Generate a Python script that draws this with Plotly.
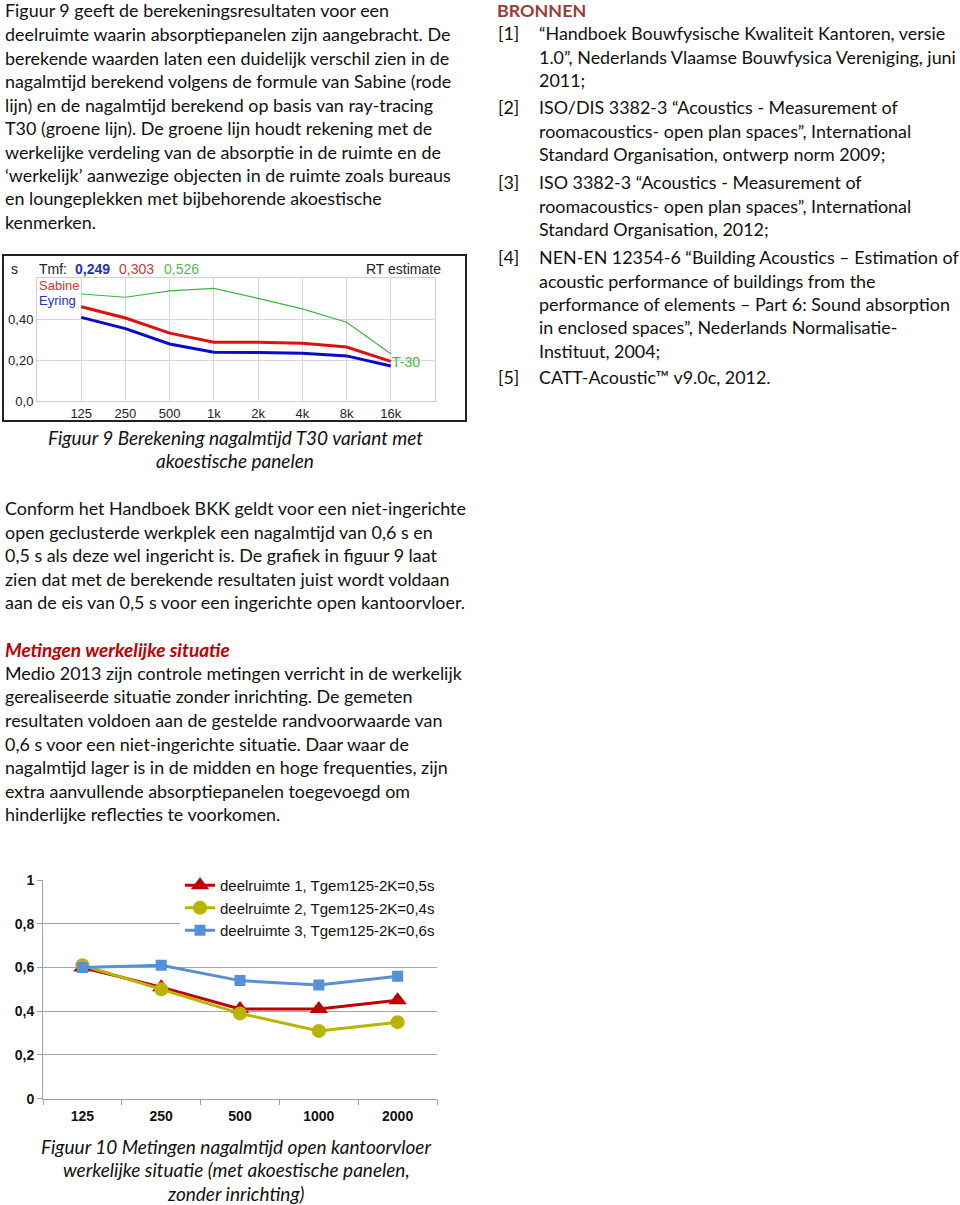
import plotly.graph_objects as go

W, H = 960, 1205
def X(px): return px / W
def Y(py): return 1 - py / H

# ---------------- data: chart 1 (RT estimate) ----------------
rt_freqs = ["125", "250", "500", "1k", "2k", "4k", "8k", "16k"]
rt_t30 = [0.522, 0.506, 0.537, 0.549, 0.501, 0.449, 0.384, 0.230]
rt_sabine = [0.460, 0.405, 0.331, 0.287, 0.287, 0.282, 0.263, 0.193]
rt_eyring = [0.408, 0.353, 0.278, 0.238, 0.237, 0.233, 0.220, 0.171]
rt_ytickvals = [0.0, 0.2, 0.4]
rt_yticktext = ["0,0", "0,20", "0,40"]
tmf_values = ["0,249", "0,303", "0,526"]

# ---------------- data: chart 2 (metingen) ----------------
m_freqs = ["125", "250", "500", "1000", "2000"]
m_names = ["deelruimte 1, Tgem125-2K=0,5s",
           "deelruimte 2, Tgem125-2K=0,4s",
           "deelruimte 3, Tgem125-2K=0,6s"]
m_d1 = [0.60, 0.51, 0.41, 0.41, 0.45]
m_d2 = [0.61, 0.50, 0.39, 0.31, 0.35]
m_d3 = [0.60, 0.61, 0.54, 0.52, 0.56]
m_ytickvals = [0, 0.2, 0.4, 0.6, 0.8, 1.0]
m_yticktext = ["0", "0,2", "0,4", "0,6", "0,8", "1"]

# ---------------- text ----------------
para1 = [
    "Figuur 9 geeft de berekeningsresultaten voor een",
    "deelruimte waarin absorptiepanelen zijn aangebracht. De",
    "berekende waarden laten een duidelijk verschil zien in de",
    "nagalmtijd berekend volgens de formule van Sabine (rode",
    "lijn) en de nagalmtijd berekend op basis van ray-tracing",
    "T30 (groene lijn). De groene lijn houdt rekening met de",
    "werkelijke verdeling van de absorptie in de ruimte en de",
    "‘werkelijk’ aanwezige objecten in de ruimte zoals bureaus",
    "en loungeplekken met bijbehorende akoestische",
    "kenmerken.",
]
caption1 = ["Figuur 9 Berekening nagalmtijd T30 variant met", "akoestische panelen"]
para2 = [
    "Conform het Handboek BKK geldt voor een niet-ingerichte",
    "open geclusterde werkplek een nagalmtijd van 0,6 s en",
    "0,5 s als deze wel ingericht is. De grafiek in figuur 9 laat",
    "zien dat met de berekende resultaten juist wordt voldaan",
    "aan de eis van 0,5 s voor een ingerichte open kantoorvloer.",
]
heading3 = "Metingen werkelijke situatie"
para3 = [
    "Medio 2013 zijn controle metingen verricht in de werkelijk",
    "gerealiseerde situatie zonder inrichting. De gemeten",
    "resultaten voldoen aan de gestelde randvoorwaarde van",
    "0,6 s voor een niet-ingerichte situatie. Daar waar de",
    "nagalmtijd lager is in de midden en hoge frequenties, zijn",
    "extra aanvullende absorptiepanelen toegevoegd om",
    "hinderlijke reflecties te voorkomen.",
]
caption2 = ["Figuur 10 Metingen nagalmtijd open kantoorvloer",
            "werkelijke situatie (met akoestische panelen,",
            "zonder inrichting)"]
refs_title = "BRONNEN"
refs = [
    ("[1]", ["“Handboek Bouwfysische Kwaliteit Kantoren, versie",
             "1.0”, Nederlands Vlaamse Bouwfysica Vereniging, juni",
             "2011;"]),
    ("[2]", ["ISO/DIS 3382-3 “Acoustics - Measurement of",
             "roomacoustics- open plan spaces”, International",
             "Standard Organisation, ontwerp norm 2009;"]),
    ("[3]", ["ISO 3382-3 “Acoustics - Measurement of",
             "roomacoustics- open plan spaces”, International",
             "Standard Organisation, 2012;"]),
    ("[4]", ["NEN-EN 12354-6 “Building Acoustics – Estimation of",
             "acoustic performance of buildings from the",
             "performance of elements – Part 6: Sound absorption",
             "in enclosed spaces”, Nederlands Normalisatie-",
             "Instituut, 2004;"]),
    ("[5]", ["CATT-Acoustic™ v9.0c, 2012."]),
]

BODY_FONT = "Lato"
BODY_SIZE = 17.9
ITALIC_SIZE = 19
TXT = "#111111"
ARIAL = "Liberation Sans, Arial"

fig = go.Figure()

# chart 1 traces
fig.add_trace(go.Scatter(x=rt_freqs, y=rt_t30, mode="lines", line=dict(color="#3CB83C", width=1.2),
                         xaxis="x", yaxis="y", showlegend=False))
fig.add_trace(go.Scatter(x=rt_freqs, y=rt_sabine, mode="lines", line=dict(color="#E01010", width=3),
                         xaxis="x", yaxis="y", showlegend=False))
fig.add_trace(go.Scatter(x=rt_freqs, y=rt_eyring, mode="lines", line=dict(color="#0A0ACC", width=3),
                         xaxis="x", yaxis="y", showlegend=False))

# chart 2 traces
fig.add_trace(go.Scatter(x=m_freqs, y=m_d1, name=m_names[0], mode="lines+markers",
                         line=dict(color="#C00000", width=3),
                         marker=dict(symbol="triangle-up", size=16, color="#C00000"),
                         xaxis="x2", yaxis="y2"))
fig.add_trace(go.Scatter(x=m_freqs, y=m_d2, name=m_names[1], mode="lines+markers",
                         line=dict(color="#B8B400", width=3),
                         marker=dict(symbol="circle", size=14, color="#B8B400"),
                         xaxis="x2", yaxis="y2"))
fig.add_trace(go.Scatter(x=m_freqs, y=m_d3, name=m_names[2], mode="lines+markers",
                         line=dict(color="#5790D8", width=3),
                         marker=dict(symbol="square", size=11, color="#5790D8"),
                         xaxis="x2", yaxis="y2"))

ann = []
def text(px, py, s, size=BODY_SIZE, color=TXT, family=BODY_FONT, anchor="left", bold=False, italic=False):
    if bold:
        s = "<b>" + s + "</b>"
    if italic:
        s = "<i>" + s + "</i>"
    ann.append(dict(x=X(px), y=Y(py), xref="paper", yref="paper", text=s, showarrow=False,
                    xanchor=anchor, yanchor="middle",
                    font=dict(family=family, size=size, color=color)))

LH = 23.5
for i, s in enumerate(para1):
    text(3, 10.5 + LH * i, s)
for i, s in enumerate(caption1):
    text(235, 437 + 24 * i, s, size=ITALIC_SIZE, anchor="center", italic=True)
for i, s in enumerate(para2):
    text(3, 508 + LH * i, s)
text(3, 649, heading3, size=ITALIC_SIZE, color="#C00000", bold=True, italic=True)
for i, s in enumerate(para3):
    text(3, 673 + LH * i, s)
for i, s in enumerate(caption2):
    text(236, 1146.5 + 23.3 * i, s, size=ITALIC_SIZE, anchor="center", italic=True)

# references column
text(495, 10.5, refs_title, color="#9B3B36", bold=True)
ref_y = [33, 107, 182, 257, 377]
for (lab, lines), y0 in zip(refs, ref_y):
    text(496, y0, lab)
    for j, s in enumerate(lines):
        text(537, y0 + LH * j, s)

# chart 1 labels
text(9, 269, "s", size=14, family=ARIAL, color="#222222")
text(37, 269, "Tmf:", size=14, family=ARIAL, color="#222222")
text(73, 269, tmf_values[0], size=14, family=ARIAL, color="#2233BB", bold=True)
text(117, 269, tmf_values[1], size=14, family=ARIAL, color="#DD3333")
text(162, 269, tmf_values[2], size=14, family=ARIAL, color="#55BB55")
text(443, 269, "RT estimate", size=14, family=ARIAL, color="#222222", anchor="right")
text(37, 285, "Sabine", size=13, family=ARIAL, color="#DD3333")
text(37, 300, "Eyring", size=13, family=ARIAL, color="#2233BB")
text(390, 362, "T-30", size=14, family=ARIAL, color="#44BB44")

fig.update_layout(
    width=W, height=H, autosize=False,
    margin=dict(l=0, r=0, t=0, b=0, autoexpand=False),
    paper_bgcolor="white", plot_bgcolor="white",
    annotations=ann,
    shapes=[dict(type="rect", xref="paper", yref="paper",
                 x0=X(3), x1=X(466), y0=Y(421), y1=Y(255),
                 line=dict(color="#222222", width=2), layer="above")],
    xaxis=dict(domain=[X(37), X(435)], type="category", range=[-1, 8],
               showgrid=True, gridcolor="#D6D6D6", gridwidth=1,
               showline=True, mirror=True, linecolor="#D0D0D0", linewidth=1,
               ticks="", tickfont=dict(family=ARIAL, size=13, color="#222222"),
               anchor="y", fixedrange=True),
    yaxis=dict(domain=[Y(401), Y(278)], range=[0, 0.6],
               tickvals=rt_ytickvals, ticktext=rt_yticktext,
               showgrid=True, gridcolor="#D6D6D6", zeroline=False,
               showline=True, mirror=True, linecolor="#D0D0D0", linewidth=1,
               ticks="", tickfont=dict(family=ARIAL, size=13, color="#222222"),
               anchor="x"),
    xaxis2=dict(domain=[X(43), X(437)], type="category", range=[-0.5, 4.5],
                showgrid=False, showline=True, linecolor="#A0A0A0", linewidth=1,
                ticks="outside", tickson="boundaries", ticklen=5, tickcolor="#A0A0A0",
                ticklabelstandoff=4,
                tickfont=dict(family=ARIAL, size=14, color="#111111", weight="bold"),
                anchor="y2"),
    yaxis2=dict(domain=[Y(1098.7), Y(880)], range=[0, 1.0],
                tickvals=m_ytickvals, ticktext=m_yticktext,
                showgrid=True, gridcolor="#A6A6A6", zeroline=False,
                showline=True, linecolor="#A0A0A0", linewidth=1,
                ticks="outside", ticklen=5, tickcolor="#A0A0A0",
                tickfont=dict(family=ARIAL, size=14, color="#111111", weight="bold"),
                anchor="x2"),
    legend=dict(x=X(180), y=Y(869), xanchor="left", yanchor="top",
                bgcolor="white", borderwidth=0, itemwidth=30,
                font=dict(family=ARIAL, size=15, color="#111111"),
                tracegroupgap=0),
)

fig.write_html("out.html", config={"displayModeBar": False},
               post_script="document.body.style.margin='0px';document.body.style.overflow='hidden';")
